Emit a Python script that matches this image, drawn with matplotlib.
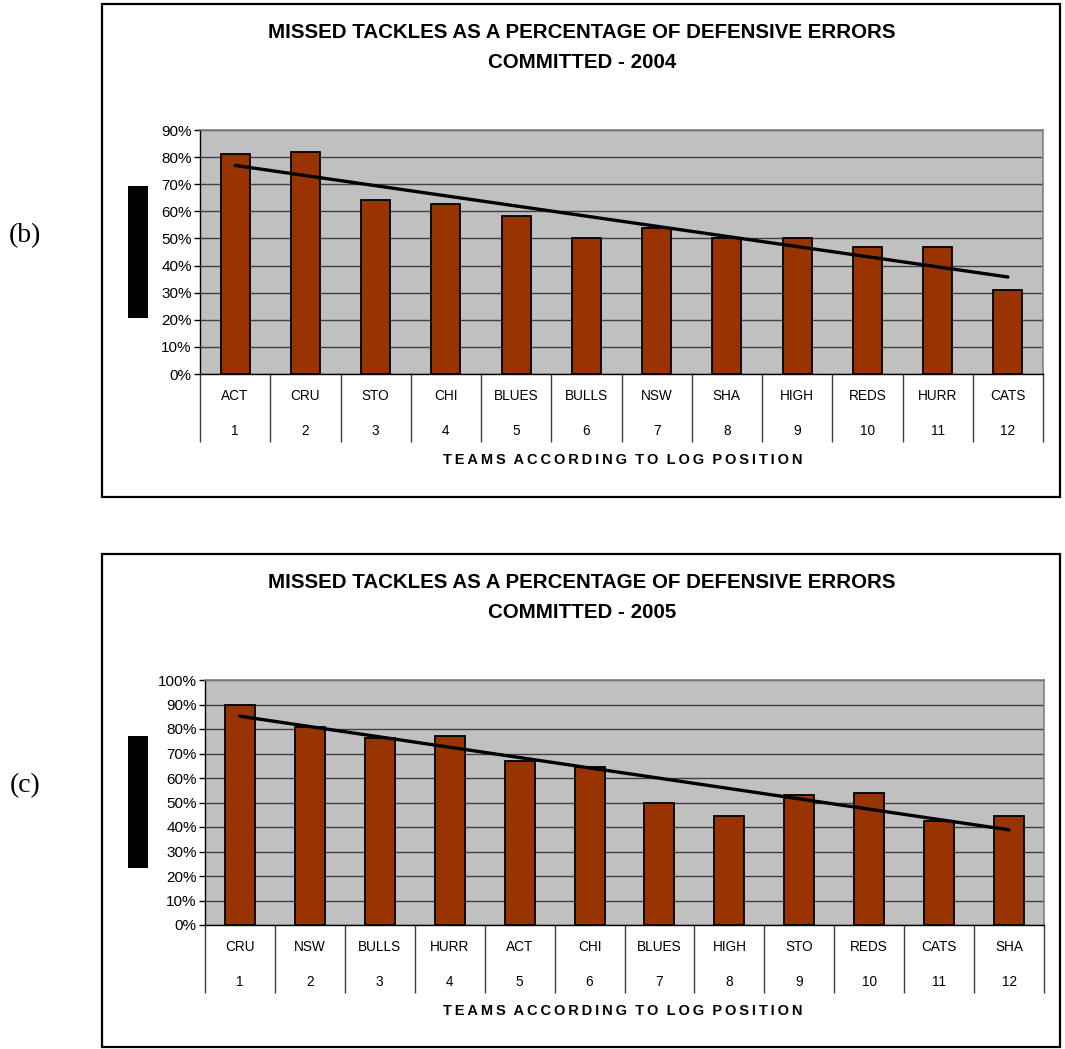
import numpy as np
import matplotlib
matplotlib.use("Agg")
import matplotlib.pyplot as plt
import matplotlib.transforms as mtrans
from matplotlib.patches import Rectangle

# ---------------- data ----------------
teams_2004 = ["ACT", "CRU", "STO", "CHI", "BLUES", "BULLS", "NSW", "SHA", "HIGH", "REDS", "HURR", "CATS"]
pct_2004 = [81, 82, 64, 62.6, 58.2, 50, 53.7, 50, 50, 47, 47, 30.8]

teams_2005 = ["CRU", "NSW", "BULLS", "HURR", "ACT", "CHI", "BLUES", "HIGH", "STO", "REDS", "CATS", "SHA"]
pct_2005 = [90, 81, 76.2, 77, 67, 64.6, 50, 44.4, 53.2, 54, 42.4, 44.4]

positions = list(range(1, 13))
title_line1 = "MISSED TACKLES AS A PERCENTAGE OF DEFENSIVE ERRORS"
title_2004 = "COMMITTED - 2004"
title_2005 = "COMMITTED - 2005"
xlabel = "TEAMS ACCORDING TO LOG POSITION"

W, H = 1065, 1049
fig = plt.figure(figsize=(W / 100, H / 100), dpi=100)
SANS = ["Liberation Sans", "DejaVu Sans"]
SERIF = ["Liberation Serif", "DejaVu Serif"]


def fx(x):
    return x / W


def fy(y):
    return 1 - y / H


def spaced(s):
    out = []
    for word in s.split(" "):
        out.append("\u2009".join(word))
    return "  ".join(out)


def panel(top, teams, vals, ymax, title2, ax_box, bar_w, label_txt):
    bx0, by0, bx1, by1 = 102, top, 1060, top + 493
    fig.patches.append(Rectangle((fx(bx0), fy(by1)), fx(bx1) - fx(bx0), fy(by0) - fy(by1),
                                 transform=fig.transFigure, fill=False, edgecolor="black",
                                 linewidth=1.6, zorder=0))
    rx0, ry0, rx1, ry1 = 128, top + 182, 148, top + 314
    fig.patches.append(Rectangle((fx(rx0), fy(ry1)), fx(rx1) - fx(rx0), fy(ry0) - fy(ry1),
                                 transform=fig.transFigure, facecolor="black", edgecolor="none",
                                 zorder=0))
    fig.text(fx(25), fy(top + 232), label_txt, family=SERIF, fontsize=20, ha="center", va="center")

    fig.text(fx(582), fy(top + 29), title_line1, family=SANS, fontweight="bold",
             fontsize=14.8, ha="center", va="center")
    fig.text(fx(582), fy(top + 59), title2, family=SANS, fontweight="bold",
             fontsize=14.8, ha="center", va="center")

    l, t, r, b = ax_box
    ax = fig.add_axes([fx(l), fy(b), fx(r) - fx(l), fy(t) - fy(b)])
    ax.set_facecolor("#C0C0C0")
    ax.bar(positions, vals, width=bar_w, color="#993300", edgecolor="black", linewidth=1.3, zorder=3)
    coef = np.polyfit(positions, vals, 1)
    xs = np.array([positions[0], positions[-1]])
    ax.plot(xs, np.polyval(coef, xs), color="black", linewidth=2.4, zorder=4,
            solid_capstyle="round")
    ax.set_xlim(0.5, 12.5)
    ax.set_ylim(0, ymax)
    ticks = np.arange(0, ymax + 1, 10)
    ax.set_yticks(ticks)
    ax.set_yticklabels([f"{int(v)}%" for v in ticks], family=SANS, fontsize=11)
    ax.yaxis.grid(True, color="#404040", linewidth=1.0, zorder=1)
    ax.set_axisbelow(True)
    ax.tick_params(axis="y", length=4, width=1, color="black", pad=2)
    ax.set_xticks(np.arange(0.5, 13, 1))
    ax.set_xticklabels([])
    ax.tick_params(axis="x", length=49, width=1, color="#404040", direction="out")
    for s in ["top", "right"]:
        ax.spines[s].set_color("#808080")
        ax.spines[s].set_linewidth(1.2)
    for s in ["left", "bottom"]:
        ax.spines[s].set_color("black")
        ax.spines[s].set_linewidth(1.0)
    trans = ax.get_xaxis_transform()
    off = mtrans.offset_copy(trans, fig=fig, x=0, y=-22 * 0.72, units="points")
    off2 = mtrans.offset_copy(trans, fig=fig, x=0, y=-57 * 0.72, units="points")
    for p, tname in zip(positions, teams):
        ax.text(p, 0, tname, transform=off, family=SANS, fontsize=9.8, ha="center", va="center")
        ax.text(p, 0, str(p), transform=off2, family=SANS, fontsize=9.8, ha="center", va="center")
    fig.text(fx(623), fy(b + 86), spaced(xlabel), family=SANS, fontweight="bold",
             fontsize=10.5, ha="center", va="center")
    return ax


panel(4, teams_2004, pct_2004, 90, title_2004, (200, 130, 1043, 374), 0.41, "(b)")
panel(554, teams_2005, pct_2005, 100, title_2005, (205, 680, 1044, 925), 0.43, "(c)")

fig.savefig("out.png", dpi=100)
